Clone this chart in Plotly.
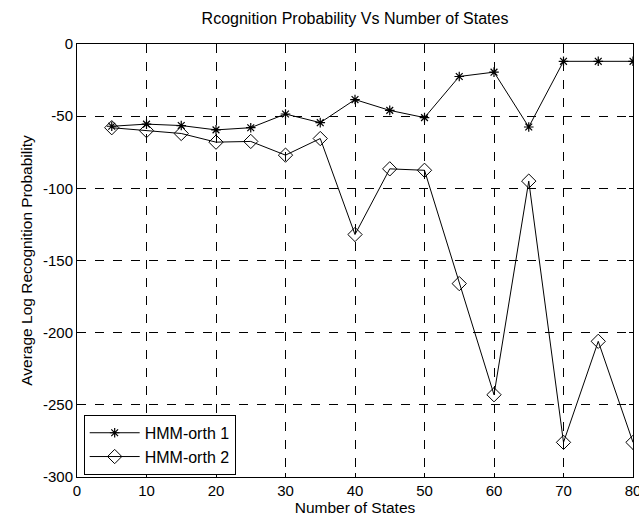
import plotly.graph_objects as go

# Number of states evaluated
states = [5, 10, 15, 20, 25, 30, 35, 40, 45, 50, 55, 60, 65, 70, 75, 80]

# Average log recognition probability per model
hmm_orth1 = [-57, -55.5, -56.5, -59.5, -58, -48.5, -54.5, -38.5, -46, -51, -22.5, -19.5, -57.5, -12, -12, -12]
hmm_orth2 = [-58, -60, -62, -68, -67.5, -77, -65.5, -132, -86.5, -87.5, -166, -243, -95, -276, -206, -276]

x_ticks = [0, 10, 20, 30, 40, 50, 60, 70, 80]
y_ticks = [0, -50, -100, -150, -200, -250, -300]

FONT = "Liberation Sans, Arial, sans-serif"

fig = go.Figure()
fig.add_trace(go.Scatter(
    x=states, y=hmm_orth1, mode="lines+markers", name="HMM-orth 1",
    line=dict(color="black", width=1),
    marker=dict(symbol="asterisk-open", size=8, color="black",
                line=dict(color="black", width=1.2)),
))
fig.add_trace(go.Scatter(
    x=states, y=hmm_orth2, mode="lines+markers", name="HMM-orth 2",
    line=dict(color="black", width=1),
    marker=dict(symbol="diamond-open", size=11, color="black",
                line=dict(color="black", width=1)),
))

axis_common = dict(
    showline=True, linecolor="black", linewidth=1, mirror="ticks",
    ticks="inside", ticklen=4, tickcolor="black",
    showgrid=True, gridcolor="black", gridwidth=1, griddash="dash",
    zeroline=False, tickfont=dict(family=FONT, size=15, color="black"),
    ticklabeloverflow="allow", automargin=False,
)

fig.update_xaxes(
    range=[0, 80], tickvals=x_ticks, ticktext=[str(v) for v in x_ticks],
    title=dict(text="Number of States", font=dict(family=FONT, size=15.5, color="black"), standoff=3),
    **axis_common,
)
fig.update_yaxes(
    range=[-300, 0], tickvals=y_ticks, ticktext=[str(v) for v in y_ticks],
    title=dict(text="Average Log Recognition Probability", font=dict(family=FONT, size=15.5, color="black"), standoff=6),
    **axis_common,
)

fig.update_layout(
    width=639, height=516,
    margin=dict(l=77, r=6, t=44, b=39, autoexpand=False),
    paper_bgcolor="white", plot_bgcolor="white",
    title=dict(text="Rcognition Probability Vs Number of States",
               font=dict(family=FONT, size=16, color="black"),
               x=0.5, xref="paper", xanchor="center", y=0.965, yanchor="middle"),
    legend=dict(
        x=0.012, y=0.005, xanchor="left", yanchor="bottom",
        bgcolor="white", bordercolor="black", borderwidth=1,
        font=dict(family=FONT, size=16, color="black"),
        itemwidth=50, tracegroupgap=0,
    ),
    showlegend=True,
)

fig.write_html("out.html")
